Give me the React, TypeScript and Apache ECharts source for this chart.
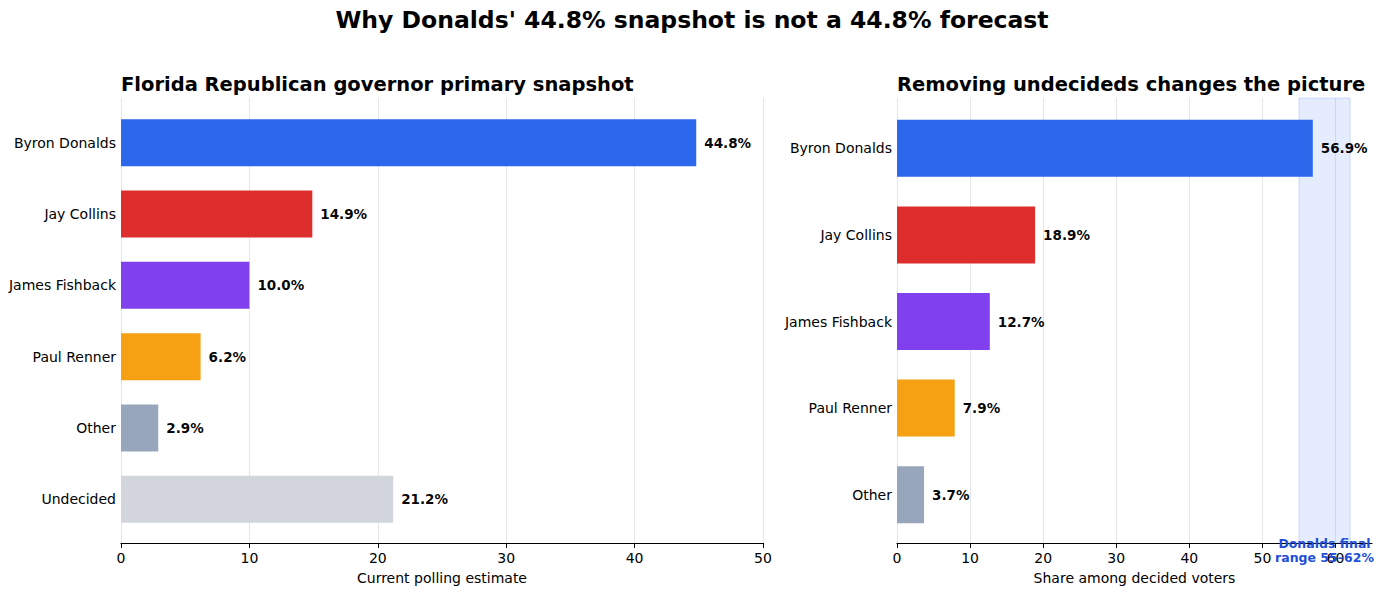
import React, { useEffect, useRef } from "react";
import * as echarts from "echarts";

const leftCategories = ["Byron Donalds", "Jay Collins", "James Fishback", "Paul Renner", "Other", "Undecided"];
const leftValues = [44.8, 14.9, 10.0, 6.2, 2.9, 21.2];
const leftColors = ["#2563eb", "#dc2626", "#7c3aed", "#f59e0b", "#94a3b8", "#d1d5db"];
const leftTicks = [0, 10, 20, 30, 40, 50];

const rightCategories = ["Byron Donalds", "Jay Collins", "James Fishback", "Paul Renner", "Other"];
const rightValues = [56.9, 18.9, 12.7, 7.9, 3.7];
const rightColors = ["#2563eb", "#dc2626", "#7c3aed", "#f59e0b", "#94a3b8"];
const rightTicks = [0, 10, 20, 30, 40, 50, 60];

const finalRange = [55, 62];

const FONT = "DejaVu Sans";

export default function App() {
  const ref = useRef<HTMLDivElement>(null);
  useEffect(() => {
    if (!ref.current) return;
    const chart = echarts.init(ref.current, null, { renderer: "svg" });
    const valueLabel = {
      show: true,
      position: "right",
      distance: 8,
      fontFamily: FONT,
      fontSize: 13.5,
      fontWeight: "bold",
      color: "#000",
      formatter: (p: any) => `${Number(p.value).toFixed(1)}%`,
    };
    const fullX = (max: number, ticks: number[], name: string, gridIndex: number) => ({
      type: "value",
      gridIndex,
      min: 0,
      max,
      interval: 10,
      name,
      nameLocation: "middle",
      nameGap: 28,
      nameTextStyle: { fontFamily: FONT, fontSize: 14, color: "#000" },
      axisLine: { show: true, lineStyle: { color: "#000", width: 1.2 } },
      axisTick: { show: true, length: 5, customValues: ticks, lineStyle: { color: "#000" } },
      axisLabel: { margin: 8, customValues: ticks, fontFamily: FONT, fontSize: 14, color: "#000" },
      splitLine: { show: true, lineStyle: { color: "#e6e6e6", width: 1 } },
    });
    const hiddenX = (max: number, gridIndex: number) => ({
      type: "value",
      gridIndex,
      min: 0,
      max,
      show: false,
      splitLine: { show: false },
    });
    const hiddenY = (gridIndex: number) => ({
      type: "value",
      gridIndex,
      min: 0,
      max: 1,
      show: false,
      splitLine: { show: false },
    });
    const catY = (data: string[], gridIndex: number) => ({
      type: "category",
      gridIndex,
      data,
      inverse: true,
      axisLine: { show: false },
      axisTick: { show: false },
      axisLabel: { margin: 5, fontFamily: FONT, fontSize: 14, color: "#000" },
      splitLine: { show: false },
    });
    chart.setOption({
      animation: false,
      backgroundColor: "#fff",
      title: [
        {
          text: "Why Donalds' 44.8% snapshot is not a 44.8% forecast",
          left: "center",
          top: 3,
          textStyle: { fontFamily: FONT, fontSize: 23.5, fontWeight: "bold", color: "#000" },
        },
        {
          text: "Florida Republican governor primary snapshot",
          left: 116,
          top: 69,
          textStyle: { fontFamily: FONT, fontSize: 19.5, fontWeight: "bold", color: "#000" },
        },
        {
          text: "Removing undecideds changes the picture",
          left: 892,
          top: 69,
          textStyle: { fontFamily: FONT, fontSize: 19.5, fontWeight: "bold", color: "#000" },
        },
      ],
      grid: [
        { left: 121, right: 621, top: 98, bottom: 53 },
        { left: 121, right: 621, top: 107, bottom: 61 },
        { left: 897, right: 12, top: 98, bottom: 53 },
        { left: 897, right: 12, top: 105, bottom: 58 },
      ],
      xAxis: [
        fullX(50, leftTicks, "Current polling estimate", 0),
        hiddenX(50, 1),
        fullX(65, rightTicks, "Share among decided voters", 2),
        hiddenX(65, 3),
      ],
      yAxis: [hiddenY(0), catY(leftCategories, 1), hiddenY(2), catY(rightCategories, 3)],
      series: [
        {
          type: "scatter",
          xAxisIndex: 2,
          yAxisIndex: 2,
          data: [[0, 0]],
          symbolSize: 0,
          silent: true,
          markArea: {
            silent: true,
            itemStyle: {
              color: "rgba(37,99,235,0.12)",
              borderColor: "rgba(37,99,235,0.18)",
              borderWidth: 1,
            },
            label: {
              show: true,
              position: "insideBottom",
              distance: 0,
              offset: [0, 21],
              fontFamily: FONT,
              fontSize: 12.5,
              fontWeight: "bold",
              color: "#1d4ed8",
              lineHeight: 14,
              align: "center",
            },
            data: [
              [
                { name: "Donalds final\nrange 55\u201362%", xAxis: finalRange[0] },
                { xAxis: finalRange[1] },
              ],
            ],
          },
        },
        {
          type: "bar",
          xAxisIndex: 1,
          yAxisIndex: 1,
          barWidth: 47,
          data: leftValues.map((v, i) => ({ value: v, itemStyle: { color: leftColors[i], opacity: 0.97 } })),
          label: valueLabel,
        },
        {
          type: "bar",
          xAxisIndex: 3,
          yAxisIndex: 3,
          barWidth: 57,
          data: rightValues.map((v, i) => ({ value: v, itemStyle: { color: rightColors[i], opacity: 0.97 } })),
          label: valueLabel,
        },
      ],
    });
    return () => chart.dispose();
  }, []);
  return <div ref={ref} style={{ width: 1384, height: 596, margin: -8 }} />;
}
